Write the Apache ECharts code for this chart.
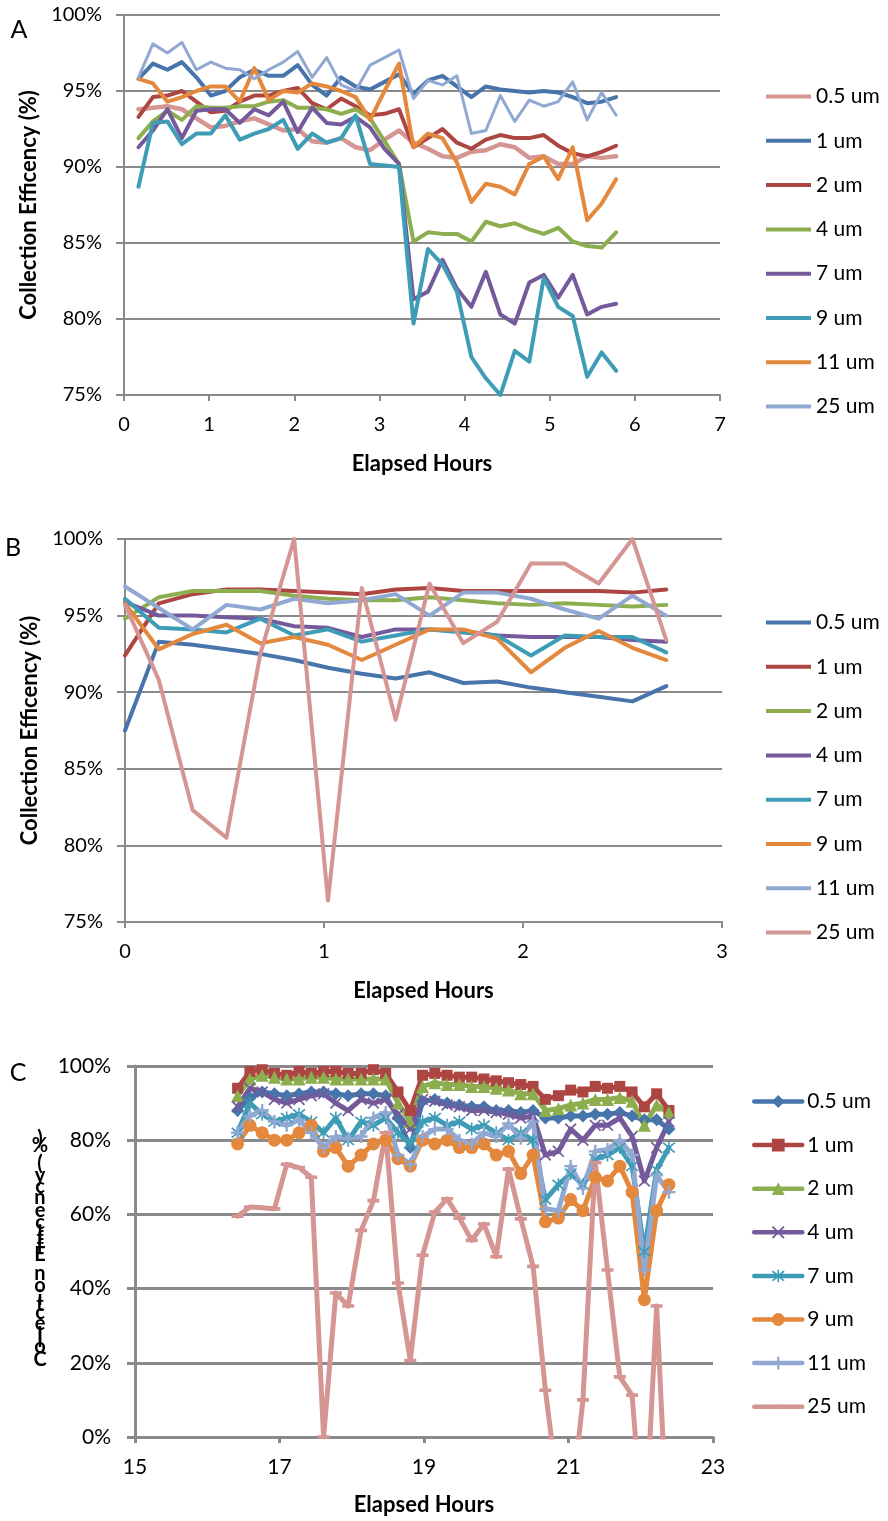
<!DOCTYPE html>
<html>
<head>
<meta charset="utf-8">
<script src="https://cdn.jsdelivr.net/npm/echarts@6/dist/echarts.min.js"></script>
<style>
  body { margin: 0; background: #fff; }
  #page { position: relative; width: 888px; height: 1521px; }
  .chart { position: absolute; left: 0; width: 888px; }
</style>
</head>
<body>
<div id="page">
  <div id="chartA" class="chart" style="top:0;height:505px"></div>
  <div id="chartB" class="chart" style="top:505px;height:520px"></div>
  <div id="chartC" class="chart" style="top:1025px;height:496px"></div>
</div>
<script>
// particle sizes (legend names)
var sizes = ['0.5 um', '1 um', '2 um', '4 um', '7 um', '9 um', '11 um', '25 um'];

// ---- panel A ----
var hoursA = [0.17, 0.34, 0.51, 0.68, 0.85, 1.02, 1.19, 1.36, 1.53, 1.70, 1.87, 2.04, 2.21, 2.38, 2.55, 2.72, 2.89,
  3.06, 3.23, 3.40, 3.57, 3.74, 3.91, 4.08, 4.25, 4.42, 4.59, 4.76, 4.93, 5.10, 5.27, 5.44, 5.61, 5.78];
var a05 = [93.8, 93.9, 94.0, 93.8, 93.2, 92.6, 92.7, 93.0, 93.2, 92.8, 92.4, 92.5, 91.7, 91.6, 91.9, 91.3, 91.1,
  91.8, 92.4, 91.6, 91.2, 90.7, 90.6, 91.0, 91.1, 91.5, 91.3, 90.6, 90.7, 90.2, 90.2, 90.7, 90.6, 90.7];
var a1 = [95.8, 96.8, 96.4, 96.9, 95.9, 94.7, 95.0, 95.9, 96.4, 96.0, 96.0, 96.7, 95.4, 94.7, 95.9, 95.3, 95.1,
  95.6, 96.1, 94.8, 95.7, 96.0, 95.3, 94.6, 95.3, 95.1, 95.0, 94.9, 95.0, 94.9, 94.6, 94.2, 94.3, 94.6];
var a2 = [93.3, 94.6, 94.7, 95.0, 94.3, 93.6, 93.7, 94.3, 94.7, 94.7, 95.0, 95.2, 94.2, 93.8, 94.5, 94.0, 93.4,
  93.5, 93.8, 91.3, 91.9, 92.5, 91.6, 91.2, 91.8, 92.1, 91.9, 91.9, 92.1, 91.4, 90.9, 90.7, 91.0, 91.4];
var a4 = [91.9, 93.0, 93.7, 93.1, 94.0, 93.9, 93.9, 94.0, 94.0, 94.3, 94.4, 93.9, 93.9, 93.8, 93.5, 93.8, 93.2,
  91.7, 90.2, 85.1, 85.7, 85.6, 85.6, 85.1, 86.4, 86.1, 86.3, 85.9, 85.6, 86.0, 85.1, 84.8, 84.7, 85.7];
var a7 = [91.3, 92.4, 93.8, 91.9, 93.7, 93.8, 93.8, 92.9, 93.8, 93.4, 94.3, 92.3, 93.9, 92.9, 92.8, 93.3, 92.6,
  91.2, 90.2, 81.3, 81.8, 83.9, 82.0, 80.8, 83.1, 80.3, 79.7, 82.4, 82.9, 81.4, 82.9, 80.3, 80.8, 81.0];
var a9 = [88.7, 92.9, 93.0, 91.5, 92.2, 92.2, 93.4, 91.8, 92.2, 92.5, 93.1, 91.2, 92.2, 91.6, 91.9, 93.4, 90.2,
  90.1, 90.0, 79.7, 84.6, 83.6, 81.8, 77.5, 76.1, 75.0, 77.9, 77.2, 82.7, 80.8, 80.2, 76.2, 77.8, 76.6];
var a11 = [95.8, 95.5, 94.3, 94.6, 95.0, 95.3, 95.3, 94.3, 96.5, 94.4, 95.0, 94.9, 95.5, 95.3, 95.0, 94.6, 93.1,
  95.0, 96.8, 91.3, 92.2, 91.9, 90.3, 87.7, 88.9, 88.7, 88.2, 90.2, 90.7, 89.2, 91.3, 86.5, 87.6, 89.2];
var a25 = [95.9, 98.1, 97.5, 98.2, 96.4, 96.9, 96.5, 96.4, 95.8, 96.4, 96.9, 97.6, 95.9, 97.2, 95.4, 95.0, 96.7,
  97.2, 97.7, 94.5, 95.7, 95.4, 96.0, 92.2, 92.4, 94.7, 93.0, 94.4, 94.0, 94.3, 95.6, 93.1, 94.9, 93.4];

// ---- panel B ----
var hoursB = [0, 0.17, 0.34, 0.51, 0.68, 0.85, 1.02, 1.19, 1.36, 1.53, 1.70, 1.87, 2.04, 2.21, 2.38, 2.55, 2.72];
var b05 = [87.5, 93.3, 93.1, 92.8, 92.5, 92.1, 91.6, 91.2, 90.9, 91.3, 90.6, 90.7, 90.3, 90.0, 89.7, 89.4, 90.4];
var b1 = [92.4, 95.8, 96.4, 96.7, 96.7, 96.6, 96.5, 96.4, 96.7, 96.8, 96.6, 96.6, 96.6, 96.6, 96.6, 96.5, 96.7];
var b2 = [94.8, 96.2, 96.6, 96.6, 96.6, 96.3, 96.1, 96.0, 96.0, 96.2, 96.0, 95.8, 95.7, 95.8, 95.7, 95.6, 95.7];
var b4 = [95.9, 95.0, 95.0, 94.9, 94.8, 94.3, 94.2, 93.6, 94.1, 94.1, 94.0, 93.7, 93.6, 93.6, 93.6, 93.4, 93.3];
var b7 = [96.1, 94.2, 94.1, 93.9, 94.8, 93.7, 94.1, 93.3, 93.7, 94.1, 93.9, 93.7, 92.4, 93.7, 93.6, 93.6, 92.6];
var b9 = [95.8, 92.8, 93.8, 94.4, 93.2, 93.6, 93.1, 92.1, 93.1, 94.1, 94.1, 93.5, 91.3, 92.9, 94.0, 92.9, 92.1];
var b11 = [96.9, 95.5, 94.1, 95.7, 95.4, 96.1, 95.8, 96.0, 96.4, 95.0, 96.5, 96.5, 96.1, 95.4, 94.8, 96.3, 95.0];
var b25 = [95.7, 90.8, 82.3, 80.5, 92.5, 100, 76.4, 96.8, 88.2, 97.1, 93.2, 94.6, 98.4, 98.4, 97.1, 100, 93.4];

// ---- panel C ----
var hoursC = [16.42, 16.59, 16.76, 16.93, 17.10, 17.27, 17.44, 17.61, 17.78, 17.95, 18.13, 18.30, 18.47, 18.64,
  18.81, 18.98, 19.15, 19.32, 19.49, 19.66, 19.83, 20.00, 20.17, 20.34, 20.51, 20.68, 20.86, 21.03, 21.20, 21.37,
  21.54, 21.71, 21.88, 22.05, 22.22, 22.39];
var c05 = [88, 91.5, 93, 92.5, 92, 92.5, 93, 93, 92.5, 92, 92.5, 92.5, 92, 86, 78, 90.5, 91, 90, 89.5, 89, 89, 88,
  88, 87.5, 88, 86, 86, 86.5, 86.5, 87, 87, 87.5, 86.5, 85.5, 85.5, 83];
var c1 = [94, 98.5, 99, 98, 97.5, 98.5, 98, 98.5, 98.5, 98, 98, 99, 98, 93, 88, 97.5, 98, 97.5, 97, 97, 96.5, 96,
  95.5, 95, 94.5, 91, 92, 93.5, 93, 94.5, 94, 94.5, 93, 89, 92.5, 88];
var c2 = [92, 96.5, 97.5, 97, 96.5, 96.5, 97, 97, 96.5, 96.5, 96.5, 96.5, 96.5, 90, 85, 94.5, 95.5, 95, 95, 94.5,
  94.5, 94, 93.5, 92.5, 92.5, 88, 88.5, 89.5, 90, 91, 91, 91.5, 90.5, 84, 89.5, 87.5];
var c4 = [89, 94, 93, 91, 90, 91, 92, 92.5, 90, 88, 91, 90, 91, 87, 83, 91, 90.5, 89.5, 89, 88, 88, 87.5, 87, 86,
  86.5, 76, 77, 83, 80, 84, 84, 86, 81, 69, 78, 85];
var c7 = [82, 90, 87, 85, 86, 87, 85, 82, 86, 80, 85, 84, 86, 82, 79, 85, 86, 84, 85, 83, 84, 82, 80, 82, 80, 64,
  68, 71, 68, 75, 76, 78, 73, 50, 72, 78];
var c9 = [79, 84, 82, 80, 80, 82, 84, 77, 78, 73, 76, 79, 80, 75, 73, 80, 79, 80, 78, 78, 79, 76, 77, 71, 76, 58,
  59, 64, 61, 70, 69, 73, 66, 37, 61, 68];
var c11 = [82, 86.5, 88, 85, 84, 85.5, 82, 78, 81, 80.5, 81, 86, 87.5, 76, 73.5, 81, 83, 83, 80, 79, 82, 81, 84.5,
  80.5, 85, 61.5, 61, 73, 67, 77, 77.5, 80, 76, 45, 70.5, 66];
var c25 = [59.5, 62, 61.8, 61.5, 73.5, 72.6, 70, 0, 38.8, 35.3, 55.7, 63.7, 82, 41.5, 20.6, 49, 60.6, 64.2, 59,
  53, 57.4, 48.6, 72.2, 58.8, 46, 12.6, -15, -20, 10, 74, 45, 16.2, 11.3, -30, 35.3, -35];

var FONT = 'Lato, "Open Sans", sans-serif';
var GRAY = '#8a8a8a';
var blue = '#4674ab', red = '#ad4643', green = '#8cae4f', purple = '#745a9b',
  teal = '#3f9cb6', orange = '#e4883d', lightBlue = '#91a9d2', pink = '#d49593';

var markX = 'path://M1,0L5,4L9,0L10,1L6,5L10,9L9,10L5,6L1,10L0,9L4,5L0,1Z';
var markStar = 'path://M1,0L5,4L9,0L10,1L6,5L10,9L9,10L5,6L1,10L0,9L4,5L0,1Z M4.4,-1H5.6V11H4.4Z';
var markPlus = 'path://M4.1,0H5.9V4.1H10V5.9H5.9V10H4.1V5.9H0V4.1H4.1Z';
var markDash = 'path://M0,0L0.01,0L0,0.01Z M0,3.5H10V6.5H0Z M10,10L9.99,10L10,9.99Z';

function pairs(xs, ys) {
  var out = [];
  for (var i = 0; i < xs.length; i++) {
    out.push([xs[i], ys[i]]);
  }
  return out;
}

function makeSeries(xs, list, colors, widths, symbols, symbolSizes) {
  var serie = [];
  for (var i = 0; i < list.length; i++) {
    serie.push({
      name: sizes[i],
      type: 'line',
      data: pairs(xs, list[i]),
      symbol: symbols ? symbols[i] : 'none',
      symbolSize: symbolSizes ? symbolSizes[i] : 0,
      clip: true,
      lineStyle: { color: colors[i], width: widths[i], join: 'round', cap: 'round' },
      itemStyle: { color: colors[i], borderWidth: 0 },
      emphasis: { disabled: true }
    });
  }
  return serie;
}

function xAxisOpt(min, max, interval, w, nameGap, fontSize) {
  return {
    type: 'value', min: min, max: max, interval: interval,
    axisLine: { show: true, onZero: false, lineStyle: { color: GRAY, width: w } },
    axisTick: { show: true, length: 6, lineStyle: { color: GRAY, width: w } },
    splitLine: { show: false },
    axisLabel: { color: '#000', fontFamily: FONT, fontSize: fontSize, margin: 20 },
    name: 'Elapsed Hours', nameLocation: 'middle', nameGap: nameGap,
    nameTextStyle: { color: '#000', fontFamily: FONT, fontSize: 22, fontWeight: 'bold' }
  };
}

function yAxisOpt(min, max, interval, w, name, fontSize) {
  return {
    type: 'value', min: min, max: max, interval: interval,
    axisLine: { show: true, onZero: false, lineStyle: { color: GRAY, width: w } },
    axisTick: { show: true, length: 8, lineStyle: { color: GRAY, width: w } },
    splitLine: { show: true, lineStyle: { color: GRAY, width: w } },
    axisLabel: { color: '#000', fontFamily: FONT, fontSize: fontSize, margin: 22, formatter: '{value}%' },
    name: name, nameLocation: 'middle', nameRotate: 90, nameGap: 84,
    nameTextStyle: { color: '#000', fontFamily: FONT, fontSize: 22, fontWeight: 'bold' }
  };
}

function legendOpt(left, top, gap, itemWidth, plain) {
  var legend = {
    orient: 'vertical', left: left, top: top, padding: 0,
    itemWidth: itemWidth, itemHeight: plain ? 4 : 16, itemGap: gap,
    selectedMode: false,
    textStyle: { color: '#000', fontFamily: FONT, fontSize: 21, lineHeight: 20 },
    data: sizes
  };
  if (plain) {
    legend.icon = 'rect';
  } else {
    legend.lineStyle = { width: 4.5 };
  }
  return legend;
}

function letter(ch, x, y) {
  return {
    type: 'text', x: x, y: y,
    style: { text: ch, fill: '#000', font: '25px ' + FONT, align: 'center', verticalAlign: 'middle',
      textAlign: 'center', textVerticalAlign: 'middle' }
  };
}

// chart A
var chartA = echarts.init(document.getElementById('chartA'));
chartA.setOption({
  animation: false,
  grid: { left: 124, top: 15, width: 596, height: 380 },
  xAxis: xAxisOpt(0, 7, 1, 2, 58, 20),
  yAxis: yAxisOpt(75, 100, 5, 2, 'Collection Efficency (%)', 20),
  legend: legendOpt(766, 86, 23.3, 45, true),
  graphic: [letter('A', 19, 30)],
  series: makeSeries(hoursA, [a05, a1, a2, a4, a7, a9, a11, a25],
    [pink, blue, red, green, purple, teal, orange, lightBlue],
    [4.5, 4, 4, 4, 4, 4, 4, 3])
});

// chart B
var chartB = echarts.init(document.getElementById('chartB'));
chartB.setOption({
  animation: false,
  grid: { left: 125, top: 34, width: 597, height: 383 },
  xAxis: xAxisOpt(0, 3, 1, 2, 58, 20),
  yAxis: yAxisOpt(75, 100, 5, 2, 'Collection Efficency (%)', 20),
  legend: legendOpt(766, 107, 23.3, 45, true),
  graphic: [letter('B', 13, 43)],
  series: makeSeries(hoursB, [b05, b1, b2, b4, b7, b9, b11, b25],
    [blue, red, green, purple, teal, orange, lightBlue, pink],
    [4, 4, 4, 4, 4, 4, 4, 4])
});

// chart C: the y title comes out as stacked, reversed characters
var titleC = 'Collection Efficency (%)';
var ctx = document.createElement('canvas').getContext('2d');
ctx.font = 'bold 20px ' + FONT;
var graphicC = [letter('C', 18, 48)];
var yPos = 104;
var chars = titleC.split('').reverse();
for (var k = 0; k < chars.length; k++) {
  graphicC.push({
    type: 'text', x: 40, y: yPos,
    style: { text: chars[k], fill: '#000', font: 'bold 20px ' + FONT, align: 'center', verticalAlign: 'top',
      textAlign: 'center', textVerticalAlign: 'top' }
  });
  yPos += ctx.measureText(chars[k]).width * 1.12;
}

var chartC = echarts.init(document.getElementById('chartC'));
var axisYC = yAxisOpt(0, 100, 20, 3, '', 21);
axisYC.axisLabel.margin = 24;
chartC.setOption({
  animation: false,
  grid: { left: 135, top: 41, width: 578, height: 374 },
  xAxis: xAxisOpt(15, 23, 2, 3, 57, 21),
  yAxis: axisYC,
  legend: legendOpt(752, 66, 22.6, 48, false),
  graphic: graphicC,
  series: makeSeries(hoursC, [c05, c1, c2, c4, c7, c9, c11, c25],
    [blue, red, green, purple, teal, orange, lightBlue, pink],
    [5, 5, 5, 5, 5, 5, 5, 5],
    ['diamond', 'rect', 'triangle', markX, markStar, 'circle', markPlus, markDash],
    [13, 11, 13, 12, 13, 13, 13, 12])
});
</script>
</body>
</html>
